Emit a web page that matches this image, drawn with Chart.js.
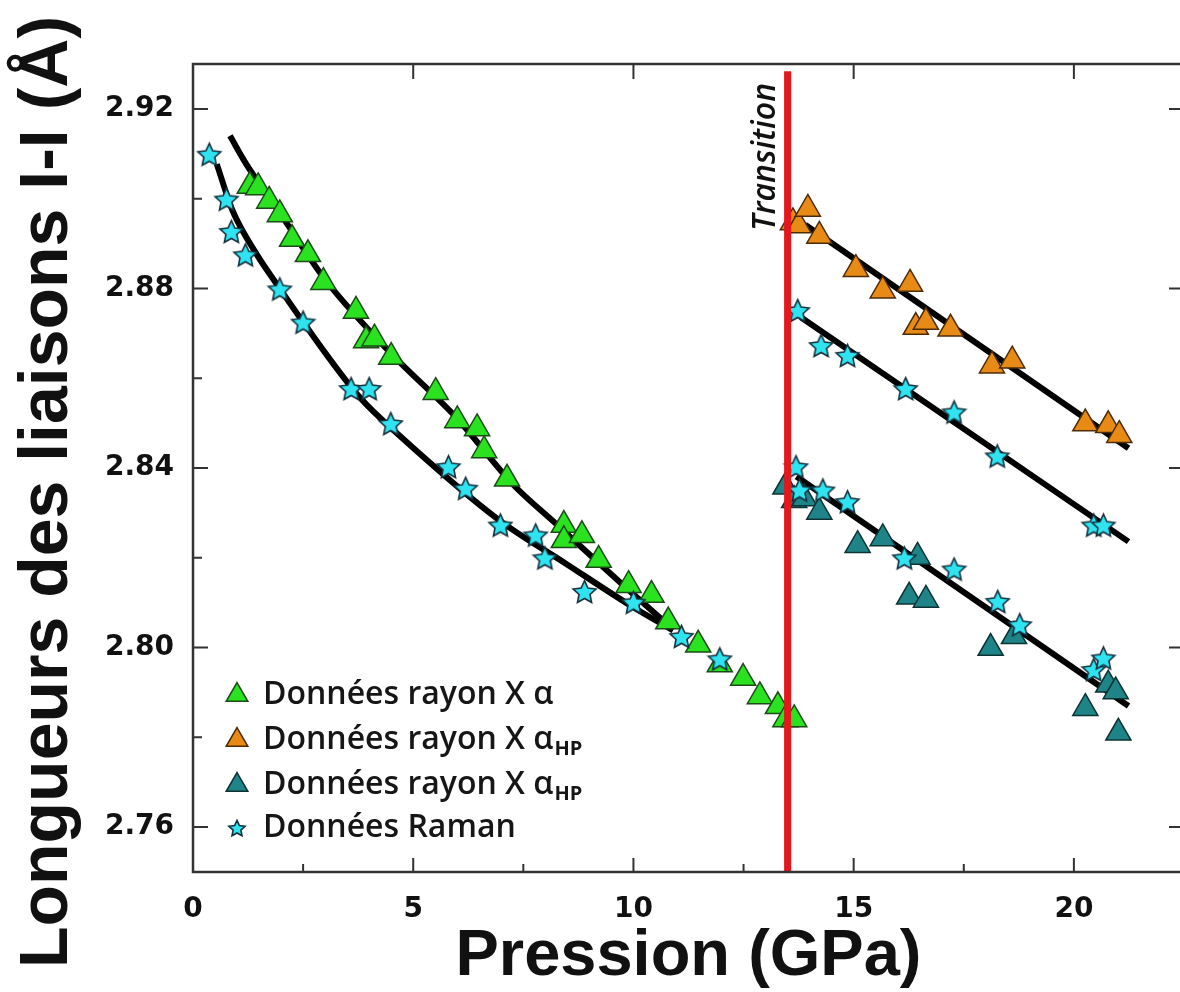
<!DOCTYPE html>
<html>
<head>
<meta charset="utf-8">
<script src="https://cdn.jsdelivr.net/npm/chart.js@4.4.1/dist/chart.umd.min.js"></script>
<style>
  html, body { margin: 0; padding: 0; background: #fff; overflow: hidden; }
  #wrap { width: 1200px; height: 992px; }
</style>
</head>
<body>
<div id="wrap"><canvas id="bondChart" width="1200" height="992"></canvas></div>
<script>
// Data (pressure in GPa, bond length in Å)

// X-ray alpha phase (green)
var alphaP = [1.29, 1.48, 1.73, 1.97, 2.25, 2.61, 2.96, 3.70, 3.93, 4.12, 4.50, 5.51, 6.00, 6.45, 6.61, 7.13,
              8.42, 8.42, 8.83, 9.21, 9.89, 10.41, 10.79, 11.47, 11.96, 12.49, 12.87, 13.28, 13.45, 13.65];
var alphaL = [2.9028, 2.9025, 2.8995, 2.8965, 2.8910, 2.8876, 2.8814, 2.8750, 2.8684, 2.8688, 2.8647, 2.8569, 2.8506, 2.8488, 2.8439, 2.8376,
              2.8273, 2.8239, 2.8250, 2.8195, 2.8139, 2.8117, 2.8058, 2.8006, 2.7962, 2.7932, 2.7891, 2.7869, 2.7840, 2.7840];

// X-ray alpha HP, upper branch (orange)
var hpUpP = [13.62, 13.75, 13.96, 14.22, 15.05, 15.66, 16.28, 16.41, 16.64, 17.20, 18.14, 18.60, 20.26, 20.78, 21.03];
var hpUpL = [2.8947, 2.8940, 2.8977, 2.8917, 2.8843, 2.8795, 2.8810, 2.8714, 2.8725, 2.8710, 2.8628, 2.8639, 2.8499, 2.8495, 2.8473];

// X-ray alpha HP, lower branch (teal)
var hpLoP = [13.45, 13.65, 13.88, 14.22, 15.09, 15.66, 16.26, 16.45, 16.64, 18.11, 18.64, 20.26, 20.78, 20.95, 21.01];
var hpLoL = [2.8358, 2.8328, 2.8332, 2.8302, 2.8228, 2.8243, 2.8113, 2.8202, 2.8106, 2.7999, 2.8025, 2.7865, 2.7917, 2.7902, 2.7810];

// Raman data (stars)
var ramanP = [0.37, 0.76, 0.87, 1.19, 1.97, 2.50, 3.59, 4.00, 4.49, 5.80, 6.19, 6.98, 7.78, 7.99, 8.89, 10.00, 11.09, 11.96,
              13.73, 14.26, 14.86, 16.18, 17.28, 18.26, 20.45, 20.67,
              13.69, 13.77, 14.30, 14.86, 16.15, 17.28, 18.27, 18.77, 20.45, 20.67];
var ramanL = [2.9099, 2.8999, 2.8927, 2.8875, 2.8799, 2.8725, 2.8577, 2.8577, 2.8499, 2.8403, 2.8355, 2.8273, 2.8251, 2.8200, 2.8125, 2.8101, 2.8025, 2.7975,
              2.8751, 2.8673, 2.8651, 2.8577, 2.8525, 2.8427, 2.8273, 2.8273,
              2.8403, 2.8351, 2.8351, 2.8325, 2.8200, 2.8175, 2.8103, 2.8051, 2.7951, 2.7977];

// Fitted curves (black)
var fitAlphaP = [0.84, 1.21, 2.00, 3.00, 4.50, 6.00, 7.25, 8.25, 9.70, 10.85];
var fitAlphaL = [2.9140, 2.9077, 2.8964, 2.8820, 2.8655, 2.8510, 2.8365, 2.8275, 2.8145, 2.8045];
var fitRamanP = [0.54, 0.90, 1.44, 1.97, 2.50, 3.78, 4.68, 6.95, 8.45, 9.96, 10.90];
var fitRamanL = [2.9077, 2.8973, 2.8877, 2.8800, 2.8725, 2.8558, 2.8473, 2.8284, 2.8188, 2.8092, 2.8038];
var fitHpUpP = [13.90, 21.24];
var fitHpUpL = [2.8942, 2.8444];
var fitRamanUpP = [13.80, 21.24];
var fitRamanUpL = [2.8736, 2.8236];
var fitHpLoP = [13.70, 21.24];
var fitHpLoL = [2.8381, 2.7870];

// Phase transition
var transitionP = 13.5;
var transitionL = [2.75, 2.9284];

// Axes
var xTicks = [0, 5, 10, 15, 20];
var xMinor = [2.5, 7.5, 12.5, 17.5];
var yTicks = [2.76, 2.80, 2.84, 2.88, 2.92];
var yMinor = [2.78, 2.82, 2.86, 2.90];

var legendLabels = ['Données rayon X α', 'Données rayon X α', 'Données rayon X α', 'Données Raman'];
var legendSubs = ['', 'HP', 'HP', ''];

function pts(xs, ys) {
    return xs.map(function(x, i) { return {x: x, y: ys[i]}; });
}

// five point star used as point style
function makeStar(size, fill, stroke) {
    var c = document.createElement('canvas');
    c.width = c.height = size;
    var g = c.getContext('2d');
    var R = size / 2 - 1.5, r = R * 0.48, cx = size / 2, cy = size / 2 + R * 0.1;
    g.beginPath();
    for (var i = 0; i < 10; i++) {
        var a = -Math.PI / 2 + i * Math.PI / 5;
        var rr = i % 2 ? r : R;
        g.lineTo(cx + rr * Math.cos(a), cy + rr * Math.sin(a));
    }
    g.closePath();
    g.fillStyle = fill;
    g.fill();
    g.lineWidth = 1.6;
    g.strokeStyle = stroke;
    g.stroke();
    return c;
}

var starBig = makeStar(27, '#2fe4f0', '#13303d');
var starSmall = makeStar(20, '#2fe4f0', '#13303d');

var green = '#2ae21f', orange = '#e88b16', teal = '#1f8487';
var markerStyles = [
    {fill: green, stroke: '#1c4a18'},
    {fill: orange, stroke: '#4d2c05'},
    {fill: teal, stroke: '#0c3233'}
];

// frame, inward ticks, legend and labels drawn on top of the chart
var decorations = {
    id: 'decorations',
    afterDraw: function(chart) {
        var ctx = chart.ctx;
        var a = chart.chartArea;
        var xs = chart.scales.x, ys = chart.scales.y;
        ctx.save();
        ctx.strokeStyle = '#333';
        ctx.lineWidth = 2.5;
        ctx.strokeRect(a.left, a.top, a.right - a.left, a.bottom - a.top);

        ctx.lineWidth = 2;
        ctx.beginPath();
        xTicks.forEach(function(v) {
            var px = xs.getPixelForValue(v);
            ctx.moveTo(px, a.bottom); ctx.lineTo(px, a.bottom - 14);
            ctx.moveTo(px, a.top); ctx.lineTo(px, a.top + 15);
        });
        xMinor.forEach(function(v) {
            var px = xs.getPixelForValue(v);
            ctx.moveTo(px, a.bottom); ctx.lineTo(px, a.bottom - 8);
        });
        yTicks.forEach(function(v) {
            var py = ys.getPixelForValue(v);
            ctx.moveTo(a.left, py); ctx.lineTo(a.left + 15, py);
            ctx.moveTo(a.right, py); ctx.lineTo(a.right - 15, py);
        });
        yMinor.forEach(function(v) {
            var py = ys.getPixelForValue(v);
            ctx.moveTo(a.left, py); ctx.lineTo(a.left + 9, py);
        });
        ctx.stroke();

        // y axis title
        ctx.fillStyle = '#111';
        ctx.save();
        ctx.translate(67, 492);
        ctx.rotate(-Math.PI / 2);
        ctx.font = 'bold 68px "Liberation Sans", Arial, sans-serif';
        ctx.textAlign = 'center';
        ctx.textBaseline = 'alphabetic';
        ctx.fillText('Longueurs des liaisons I-I (Å)', 0, 0);
        ctx.restore();

        // transition label
        ctx.save();
        ctx.translate(xs.getPixelForValue(transitionP) - 13, 157);
        ctx.rotate(-Math.PI / 2);
        ctx.font = 'italic 600 32px "Open Sans", sans-serif';
        ctx.textAlign = 'center';
        ctx.textBaseline = 'alphabetic';
        ctx.fillText('Transition', 0, 0);
        ctx.restore();

        // legend
        var rowY = [695, 740, 785, 828];
        legendLabels.forEach(function(label, i) {
            if (i < 3) {
                ctx.fillStyle = markerStyles[i].fill;
                ctx.strokeStyle = markerStyles[i].stroke;
                ctx.lineWidth = 1.5;
                Chart.helpers.drawPoint(ctx, {pointStyle: 'triangle', radius: 12.5, rotation: 0, borderWidth: 1.5}, 237, rowY[i]);
            } else {
                ctx.drawImage(starSmall, 237 - 10, rowY[i] - 10);
            }
            ctx.fillStyle = '#161616';
            ctx.textAlign = 'left';
            ctx.textBaseline = 'alphabetic';
            ctx.font = '600 32px "Open Sans", sans-serif';
            var base = rowY[i] + 9;
            ctx.fillText(label, 263, base);
            if (legendSubs[i]) {
                var w = ctx.measureText(label).width;
                ctx.font = 'bold 20px "Open Sans", sans-serif';
                ctx.fillText(legendSubs[i], 263 + w + 1, base + 6);
            }
        });
        ctx.restore();
    }
};

var ctx = document.getElementById('bondChart').getContext('2d');
var bondChart = new Chart(ctx, {
    type: 'scatter',
    data: {
        datasets: [
            {
                label: 'Transition',
                data: pts([transitionP, transitionP], transitionL),
                showLine: true,
                borderColor: '#e3171c',
                borderWidth: 7,
                pointRadius: 0,
                order: 0
            },
            {
                label: 'Données Raman',
                data: pts(ramanP, ramanL),
                pointStyle: starBig,
                order: 1
            },
            {
                label: 'Données rayon X α',
                data: pts(alphaP, alphaL),
                pointStyle: 'triangle',
                pointRadius: 14.5,
                backgroundColor: green,
                borderColor: markerStyles[0].stroke,
                borderWidth: 1.5,
                order: 2
            },
            {
                label: 'Données rayon X αHP',
                data: pts(hpUpP, hpUpL),
                pointStyle: 'triangle',
                pointRadius: 14.5,
                backgroundColor: orange,
                borderColor: markerStyles[1].stroke,
                borderWidth: 1.5,
                order: 3
            },
            {
                label: 'Données rayon X αHP (2)',
                data: pts(hpLoP, hpLoL),
                pointStyle: 'triangle',
                pointRadius: 14.5,
                backgroundColor: teal,
                borderColor: markerStyles[2].stroke,
                borderWidth: 1.5,
                order: 4
            },
            {data: pts(fitAlphaP, fitAlphaL), showLine: true, cubicInterpolationMode: 'monotone', borderColor: '#000', borderWidth: 6, pointRadius: 0, order: 10},
            {data: pts(fitRamanP, fitRamanL), showLine: true, cubicInterpolationMode: 'monotone', borderColor: '#000', borderWidth: 6, pointRadius: 0, order: 10},
            {data: pts(fitHpUpP, fitHpUpL), showLine: true, borderColor: '#000', borderWidth: 6, pointRadius: 0, order: 10},
            {data: pts(fitRamanUpP, fitRamanUpL), showLine: true, borderColor: '#000', borderWidth: 6, pointRadius: 0, order: 10},
            {data: pts(fitHpLoP, fitHpLoL), showLine: true, borderColor: '#000', borderWidth: 6, pointRadius: 0, order: 10}
        ]
    },
    options: {
        responsive: false,
        animation: false,
        layout: {padding: {top: 64, right: 12.5, left: 0, bottom: 0}},
        plugins: {
            legend: {display: false},
            tooltip: {enabled: false}
        },
        scales: {
            x: {
                type: 'linear',
                min: 0,
                max: 22.5,
                afterFit: function(s) { s.height = 120; },
                afterBuildTicks: function(s) { s.ticks = xTicks.map(function(v) { return {value: v}; }); },
                grid: {display: false, drawTicks: false},
                border: {display: false},
                ticks: {
                    padding: 21,
                    color: '#111',
                    font: {family: '"DejaVu Sans", sans-serif', size: 28, weight: 'bold'}
                },
                title: {
                    display: true,
                    text: 'Pression (GPa)',
                    color: '#111',
                    font: {family: '"Liberation Sans", Arial, sans-serif', size: 65, weight: 'bold', lineHeight: 1},
                    padding: {top: 0, bottom: 2}
                }
            },
            y: {
                min: 2.75,
                max: 2.93,
                afterFit: function(s) { s.width = 193; },
                afterBuildTicks: function(s) { s.ticks = yTicks.map(function(v) { return {value: v}; }); },
                grid: {display: false, drawTicks: false},
                border: {display: false},
                ticks: {
                    padding: 19,
                    color: '#111',
                    font: {family: '"DejaVu Sans", sans-serif', size: 28, weight: 'bold'},
                    callback: function(v) { return v.toFixed(2); }
                }
            }
        }
    },
    plugins: [decorations]
});
</script>
</body>
</html>
